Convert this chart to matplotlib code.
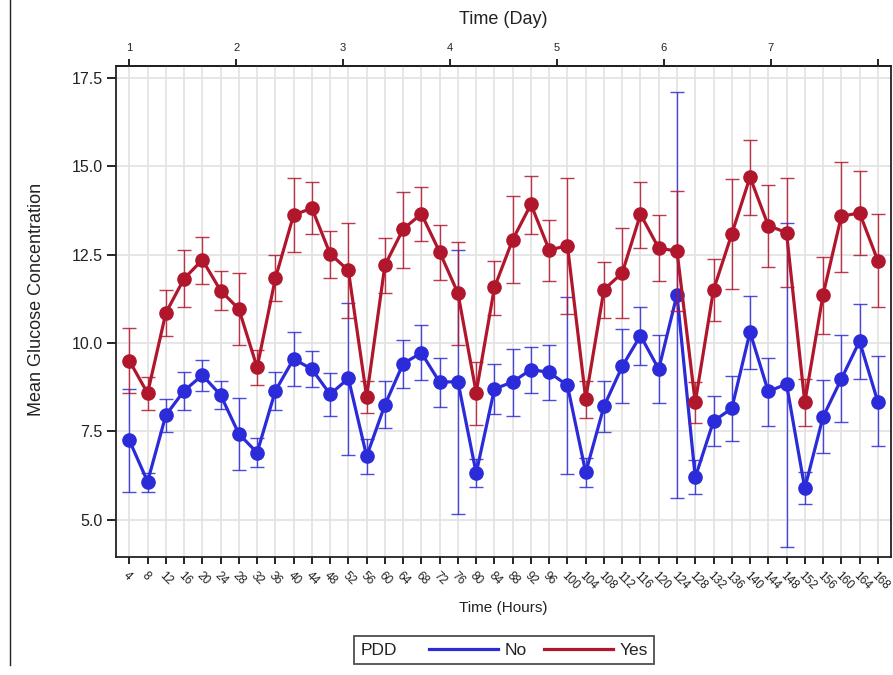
import matplotlib
matplotlib.use("Agg")
import matplotlib.pyplot as plt
from matplotlib.lines import Line2D
from matplotlib.offsetbox import HPacker
import numpy as np

plt.rcParams["font.family"] = ["Liberation Sans", "DejaVu Sans"]

# === Dati ===
hours = [4, 8, 12, 16, 20, 24, 28, 32, 36, 40, 44, 48, 52, 56, 60, 64, 68, 72, 76, 80, 84,
         88, 92, 96, 100, 104, 108, 112, 116, 120, 124, 128, 132, 136, 140, 144, 148, 152,
         156, 160, 164, 168]

no_mean = [7.25, 6.08, 7.96, 8.65, 9.09, 8.53, 7.43, 6.90, 8.65, 9.55, 9.26, 8.55, 9.00, 6.80,
           8.25, 9.42, 9.72, 8.89, 8.91, 6.32, 8.70, 8.90, 9.25, 9.17, 8.80, 6.34, 8.21, 9.34,
           10.21, 9.26, 11.37, 6.20, 7.79, 8.15, 10.31, 8.63, 8.84, 5.89, 7.91, 8.98, 10.05, 8.34]
no_upper = [8.71, 6.32, 8.42, 9.17, 9.51, 8.92, 8.44, 7.31, 9.18, 10.30, 9.78, 9.15, 11.13, 7.28,
            8.92, 10.08, 10.50, 9.57, 12.64, 6.72, 9.41, 9.84, 9.90, 9.93, 11.29, 6.76, 8.92, 10.39,
            11.02, 10.24, 17.09, 6.68, 8.49, 9.08, 11.34, 9.58, 13.40, 6.35, 8.94, 10.22, 11.10, 9.63]
no_lower = [5.80, 5.78, 7.49, 8.12, 8.65, 8.13, 6.42, 6.50, 8.11, 8.79, 8.76, 7.94, 6.84, 6.30,
            7.59, 8.72, 8.94, 8.19, 5.17, 5.94, 8.00, 7.93, 8.59, 8.40, 6.30, 5.92, 7.48, 8.29,
            9.37, 8.29, 5.63, 5.73, 7.08, 7.23, 9.26, 7.65, 4.24, 5.44, 6.89, 7.78, 8.98, 7.08]

yes_mean = [9.50, 8.58, 10.85, 11.82, 12.35, 11.48, 10.96, 9.31, 11.83, 13.62, 13.81, 12.52, 12.05,
            8.48, 12.20, 13.22, 13.65, 12.57, 11.41, 8.60, 11.57, 12.92, 13.92, 12.63, 12.75, 8.42,
            11.51, 11.98, 13.64, 12.68, 12.60, 8.32, 11.50, 13.08, 14.69, 13.32, 13.12, 8.32, 11.36,
            13.58, 13.68, 12.33]
yes_upper = [10.42, 9.03, 11.51, 12.62, 13.01, 12.03, 11.98, 9.81, 12.49, 14.66, 14.55, 13.18, 13.38,
             8.92, 12.96, 14.28, 14.40, 13.33, 12.86, 9.47, 12.31, 14.16, 14.72, 13.49, 14.67, 8.93,
             12.28, 13.25, 14.55, 13.61, 14.30, 8.90, 12.37, 14.64, 15.75, 14.47, 14.66, 8.98, 12.43,
             15.12, 14.87, 13.64]
yes_lower = [8.60, 8.11, 10.19, 11.01, 11.67, 10.92, 9.93, 8.82, 11.20, 12.58, 13.07, 11.84, 10.70,
             8.02, 11.42, 12.13, 12.89, 11.79, 9.95, 7.68, 10.80, 11.69, 13.09, 11.75, 10.82, 7.89,
             10.71, 10.71, 12.69, 11.76, 10.90, 7.73, 10.61, 11.53, 13.62, 12.16, 11.57, 7.65, 10.26,
             12.00, 12.50, 11.03]

y_ticks = [5.0, 7.5, 10.0, 12.5, 15.0, 17.5]
day_ticks = [1, 2, 3, 4, 5, 6, 7, 8]
day_labels = ["1", "2", "3", "4", "5", "6", "7", ""]

blue = "#2B2BD9"
red = "#B1172C"
testo = "#222222"

# === Grafico ===
fig = plt.figure(figsize=(8.93, 6.75), dpi=100)
ax = fig.add_axes([0.1296, 0.1748, 0.8682, 0.7279])

for mean, lo, up, col, z in [(no_mean, no_lower, no_upper, blue, 3),
                             (yes_mean, yes_lower, yes_upper, red, 5)]:
    mean = np.array(mean)
    err = [mean - np.array(lo), np.array(up) - mean]
    ax.errorbar(hours, mean, yerr=err, fmt="none", ecolor=col, elinewidth=1.0,
                capsize=4.7, capthick=1.0, alpha=0.85, zorder=z)
    ax.plot(hours, mean, color=col, lw=2.3, marker="o", markersize=9.5, zorder=z + 1)

ax.set_xlim(1.02, 170.9)
ax.set_ylim(3.95, 17.84)
ax.set_xticks(hours)
ax.set_xticklabels([str(h) for h in hours], rotation=-45, ha="left", va="top",
                   rotation_mode="anchor", fontsize=8.5, color=testo)
ax.set_yticks(y_ticks)
ax.set_yticklabels([f"{v:.1f}" for v in y_ticks], fontsize=11.5, color=testo)
ax.tick_params(axis="x", length=5, width=1.2, pad=4, direction="out")
ax.tick_params(axis="y", length=6.5, width=1.2, pad=3, direction="out")
ax.grid(True, color="#e2e2e2", lw=1.2, zorder=0)
ax.set_axisbelow(True)
for s in ax.spines.values():
    s.set_linewidth(1.3)
    s.set_color("#222222")

# asse superiore in giorni
def h2d(h):
    return 1 + (np.asarray(h) - 4) * 7 / 164

def d2h(d):
    return 4 + (np.asarray(d) - 1) * 164 / 7

sec = ax.secondary_xaxis("top", functions=(h2d, d2h))
sec.set_xticks(day_ticks)
sec.set_xticklabels(day_labels, fontsize=8, color=testo)
sec.tick_params(length=5, width=1.2, pad=4)
sec.spines["top"].set_linewidth(1.3)

fig.text(503.5 / 893, 1 - 20 / 675, "Time (Day)", ha="center", va="center", fontsize=13, color=testo)
fig.text(503 / 893, 1 - 608 / 675, "Time (Hours)", ha="center", va="center", fontsize=11, color=testo)
fig.text(37 / 893, 1 - 299 / 675, "Mean Glucose Concentration", rotation=90,
         ha="center", va="center", fontsize=13, color=testo)

# linea verticale a sinistra
fig.add_artist(Line2D([10 / 893, 10 / 893], [1 - 665 / 675, 1], color="#222222", lw=1.0))

# === Legenda ===
handles = [Line2D([], [], color=blue, lw=2.3), Line2D([], [], color=red, lw=2.3)]
leg = fig.legend(handles, ["No", "Yes"], title="PDD", ncol=2, loc="center",
                 bbox_to_anchor=(504 / 893, 25 / 675), fontsize=12.5, title_fontsize=12.5,
                 handlelength=4.0, handletextpad=0.35, columnspacing=1.0, borderpad=0.35,
                 fancybox=False, frameon=True, edgecolor="#222222")
leg.get_frame().set_linewidth(1.3)
leg._legend_box.__class__ = HPacker
leg._legend_box.sep = 23
leg._legend_box.align = "baseline"
for t in leg.get_texts():
    t.set_color(testo)
leg.get_title().set_color(testo)

fig.savefig("out.png", dpi=100)
